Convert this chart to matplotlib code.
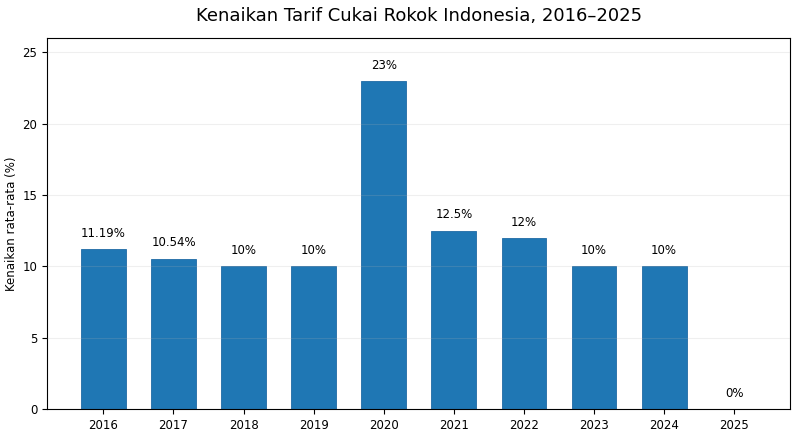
import matplotlib.pyplot as plt

years = ['2016', '2017', '2018', '2019', '2020', '2021', '2022', '2023', '2024', '2025']
kenaikan = [11.19, 10.54, 10, 10, 23, 12.5, 12, 10, 10, 0]
labels = ['11.19%', '10.54%', '10%', '10%', '23%', '12.5%', '12%', '10%', '10%', '0%']

fig, ax = plt.subplots(figsize=(8, 4.37), dpi=100)
bars = ax.bar(years, kenaikan, width=0.64, color='#1f77b4', edgecolor='#1f6aa5', linewidth=0.6)

for bar, lab in zip(bars, labels):
    ax.text(bar.get_x() + bar.get_width() / 2, bar.get_height() + 0.65, lab,
            ha='center', va='bottom', fontsize=8.5)

ax.set_ylim(0, 26)
ax.set_ylabel('Kenaikan rata-rata (%)', fontsize=8.5, labelpad=3)
ax.set_title('Kenaikan Tarif Cukai Rokok Indonesia, 2016\u20132025', fontsize=13, pad=12)
ax.tick_params(labelsize=8.5)
ax.grid(axis='y', alpha=0.2)
ax.set_axisbelow(False)

plt.subplots_adjust(left=0.059, right=0.988, top=0.913, bottom=0.064)
plt.savefig('out.png')
